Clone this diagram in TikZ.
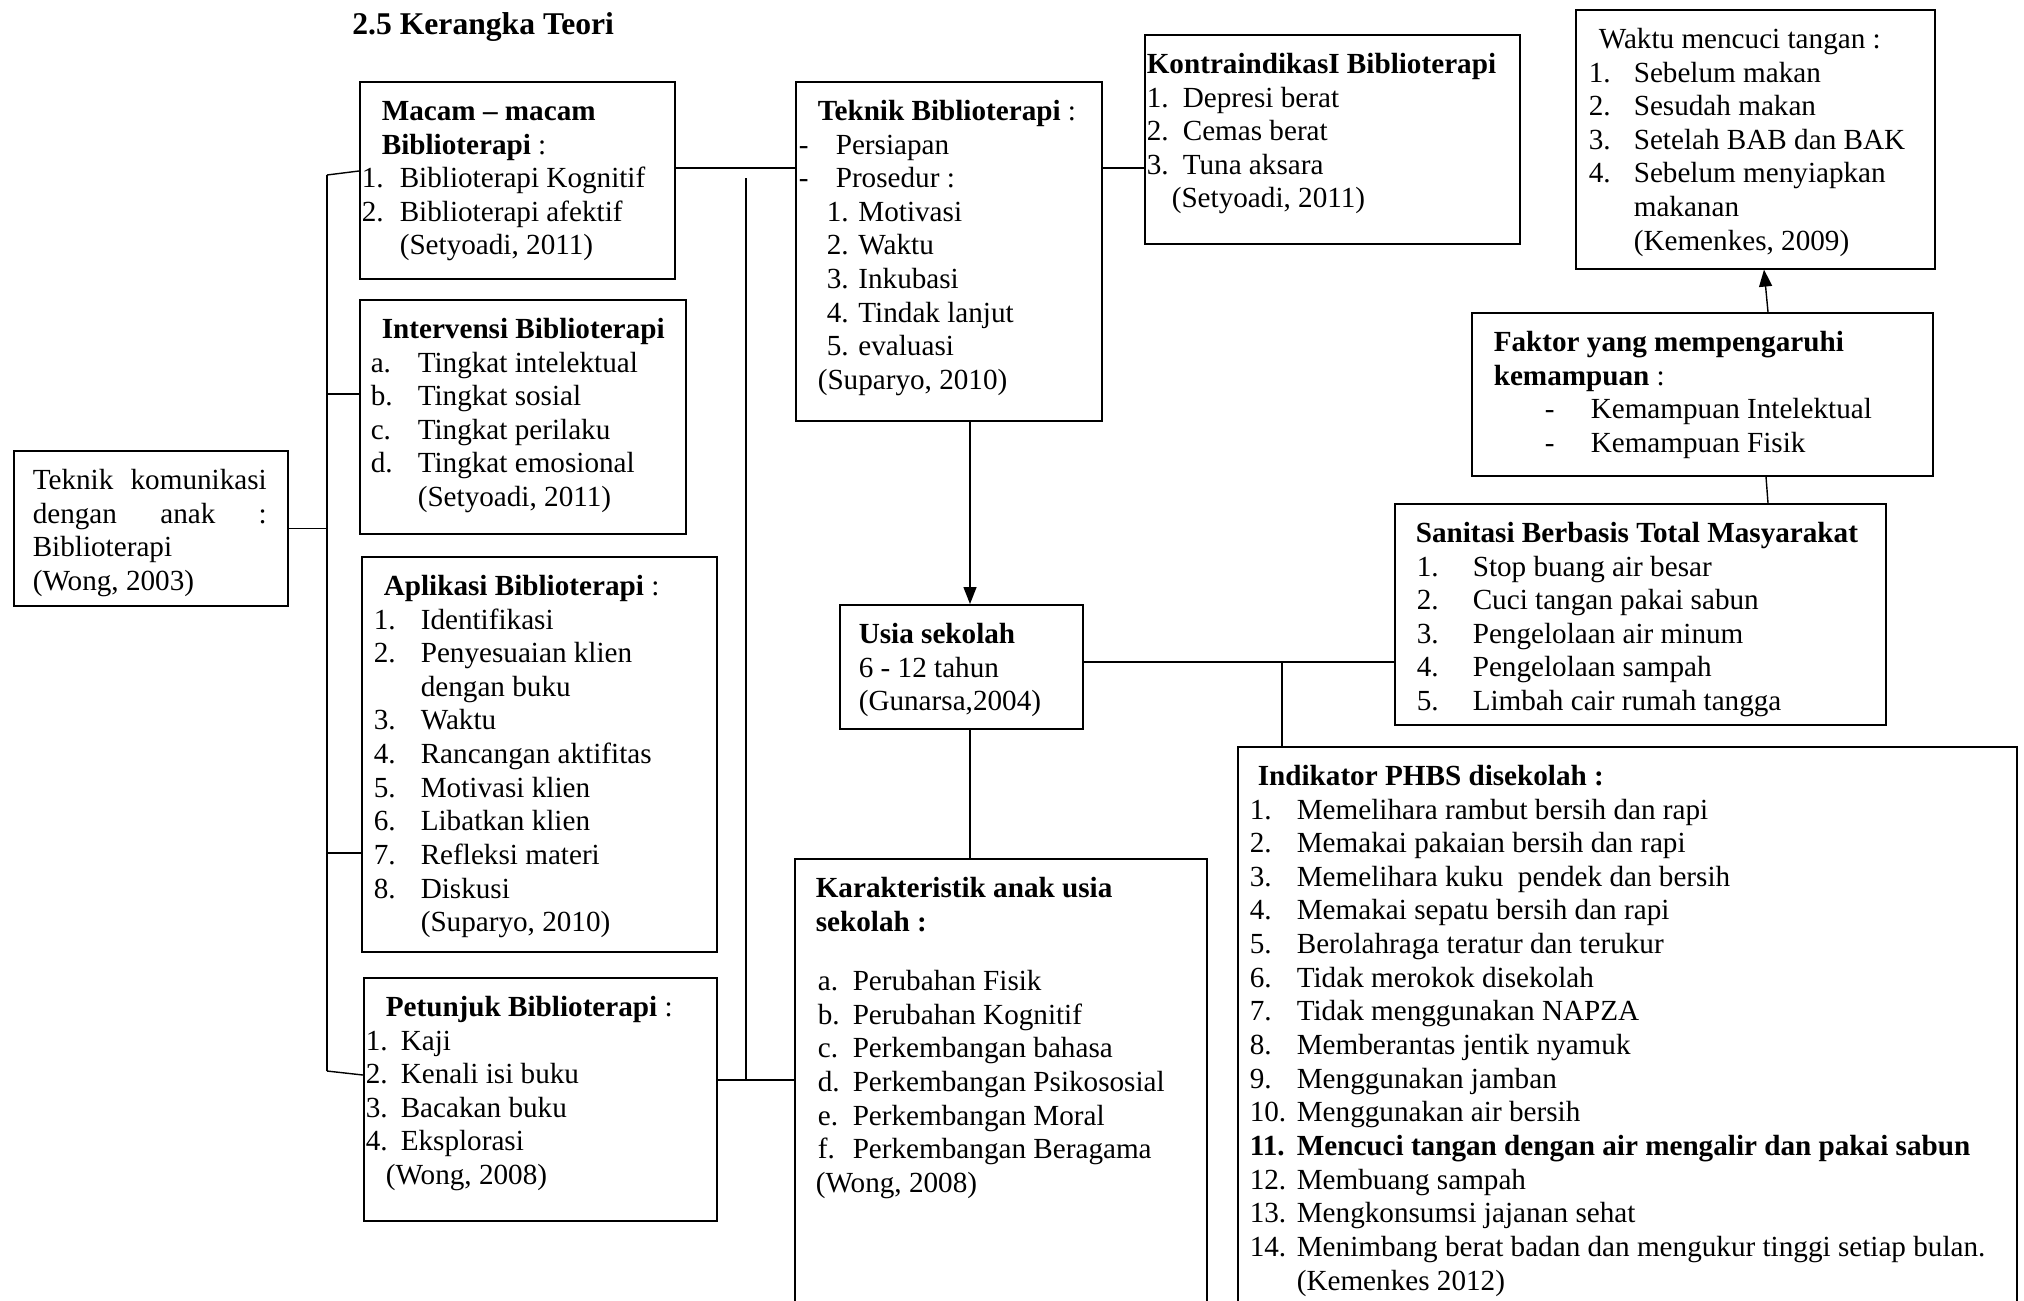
\documentclass[tikz,border=0pt]{standalone}
\usepackage{fontspec}
\setmainfont{Liberation Serif}
\usetikzlibrary{arrows.meta,calc}

\newlength\pxu \setlength\pxu{0.2mm}
\newcommand\ind[2]{\hspace*{#1\pxu}#2}
\newcommand\itm[4]{\hspace*{#1\pxu}\makebox[\dimexpr#2\pxu-#1\pxu\relax][l]{#3}#4}
\newcommand\panel[3]{\parbox[c][#2\pxu][t]{#1\pxu}{\vspace*{15\pxu}\strut#3}}

\begin{document}
\begin{tikzpicture}[x=0.2mm,y=-0.2mm,
panel/.style={draw=black,line width=0.9pt,inner sep=0pt,anchor=north west,
font=\fontsize{16.6pt}{19.15pt}\selectfont},
link/.style={draw=black,line width=0.8pt},
arrow/.style={link,-{Triangle[length=3.4mm,width=2.6mm]}}]
\path[fill=white,use as bounding box] (0,0) rectangle (2024,1300);
\node[anchor=west,inner sep=0pt,font=\bfseries\fontsize{18pt}{21pt}\selectfont] (title) at (352,27) {2.5 Kerangka Teori};

\node[panel] (komm) at (13,450) {\panel{274}{155}{%
\ind{19}{\makebox[234\pxu][s]{Teknik komunikasi}}\\
\ind{19}{\makebox[234\pxu][s]{dengan anak :}}\\
\ind{19}{Biblioterapi}\\
\ind{19}{(Wong, 2003)}}};

\node[panel] (macam) at (359,81) {\panel{315}{197}{%
\ind{22}{\textbf{Macam -- macam}}\\
\ind{22}{\textbf{Biblioterapi} :}\\
\itm{2}{40}{1.}{Biblioterapi Kognitif}\\
\itm{2}{40}{2.}{Biblioterapi afektif}\\
\ind{40}{(Setyoadi, 2011)}}};

\node[panel] (interv) at (359,299) {\panel{326}{234}{%
\ind{22}{\textbf{Intervensi Biblioterapi}}\\
\itm{11}{58}{a.}{Tingkat intelektual}\\
\itm{11}{58}{b.}{Tingkat sosial}\\
\itm{11}{58}{c.}{Tingkat perilaku}\\
\itm{11}{58}{d.}{Tingkat emosional}\\
\ind{58}{(Setyoadi, 2011)}}};

\node[panel] (aplik) at (361,556) {\panel{355}{395}{%
\ind{22}{\textbf{Aplikasi Biblioterapi} :}\\
\itm{12}{59}{1.}{Identifikasi}\\
\itm{12}{59}{2.}{Penyesuaian klien}\\
\ind{59}{dengan buku}\\
\itm{12}{59}{3.}{Waktu}\\
\itm{12}{59}{4.}{Rancangan aktifitas}\\
\itm{12}{59}{5.}{Motivasi klien}\\
\itm{12}{59}{6.}{Libatkan klien}\\
\itm{12}{59}{7.}{Refleksi materi}\\
\itm{12}{59}{8.}{Diskusi}\\
\ind{59}{(Suparyo, 2010)}}};

\node[panel] (petunjuk) at (363,977) {\panel{353}{243}{%
\ind{22}{\textbf{Petunjuk Biblioterapi} :}\\
\itm{2}{37}{1.}{Kaji}\\
\itm{2}{37}{2.}{Kenali isi buku}\\
\itm{2}{37}{3.}{Bacakan buku}\\
\itm{2}{37}{4.}{Eksplorasi}\\
\ind{22}{(Wong, 2008)}}};

\node[panel] (teknik) at (795,81) {\panel{306}{339}{%
\ind{22}{\textbf{Teknik Biblioterapi} :}\\
\itm{3}{40}{-}{Persiapan}\\
\itm{3}{40}{-}{Prosedur :}\\
\ind{31}{1. Motivasi}\\
\ind{31}{2. Waktu}\\
\ind{31}{3. Inkubasi}\\
\ind{31}{4. Tindak lanjut}\\
\ind{31}{5. evaluasi}\\
\ind{22}{(Suparyo, 2010)}}};

\node[panel] (kontra) at (1144,34) {\panel{375}{209}{%
\ind{2}{\textbf{KontraindikasI Biblioterapi}}\\
\itm{2}{38}{1.}{Depresi berat}\\
\itm{2}{38}{2.}{Cemas berat}\\
\itm{2}{38}{3.}{Tuna aksara}\\
\ind{27}{(Setyoadi, 2011)}}};

\node[panel] (waktu) at (1575,9) {\panel{359}{259}{%
\ind{23}{Waktu mencuci tangan :}\\
\itm{13}{58}{1.}{Sebelum makan}\\
\itm{13}{58}{2.}{Sesudah makan}\\
\itm{13}{58}{3.}{Setelah BAB dan BAK}\\
\itm{13}{58}{4.}{Sebelum menyiapkan}\\
\ind{58}{makanan}\\
\ind{58}{(Kemenkes, 2009)}}};

\node[panel] (faktor) at (1471,312) {\panel{461}{163}{%
\ind{22}{\textbf{Faktor yang mempengaruhi}}\\
\ind{22}{\textbf{kemampuan} :}\\
\itm{73}{119}{-}{Kemampuan Intelektual}\\
\itm{73}{119}{-}{Kemampuan Fisik}}};

\node[panel] (sanitasi) at (1394,503) {\panel{491}{221}{%
\ind{21}{\textbf{Sanitasi Berbasis Total Masyarakat}}\\
\itm{22}{78}{1.}{Stop buang air besar}\\
\itm{22}{78}{2.}{Cuci tangan pakai sabun}\\
\itm{22}{78}{3.}{Pengelolaan air minum}\\
\itm{22}{78}{4.}{Pengelolaan sampah}\\
\itm{22}{78}{5.}{Limbah cair rumah tangga}}};

\node[panel] (usia) at (839,604) {\panel{243}{124}{%
\ind{19}{\textbf{Usia sekolah}}\\
\ind{19}{6 - 12 tahun}\\
\ind{19}{(Gunarsa,2004)}}};

\node[panel] (karakter) at (794,858) {\panel{412}{460}{%
\ind{21}{\textbf{Karakteristik anak usia}}\\
\ind{21}{\textbf{sekolah :}}\\[26\pxu]
\itm{23}{58}{a.}{Perubahan Fisik}\\
\itm{23}{58}{b.}{Perubahan Kognitif}\\
\itm{23}{58}{c.}{Perkembangan bahasa}\\
\itm{23}{58}{d.}{Perkembangan Psikososial}\\
\itm{23}{58}{e.}{Perkembangan Moral}\\
\itm{23}{58}{f.}{Perkembangan Beragama}\\
\ind{21}{(Wong, 2008)}}};

\node[panel] (indikator) at (1237,746) {\panel{779}{570}{%
\ind{20}{\textbf{Indikator PHBS disekolah :}}\\
\itm{12}{59}{1.}{Memelihara rambut bersih dan rapi}\\
\itm{12}{59}{2.}{Memakai pakaian bersih dan rapi}\\
\itm{12}{59}{3.}{Memelihara kuku\ \ pendek dan bersih}\\
\itm{12}{59}{4.}{Memakai sepatu bersih dan rapi}\\
\itm{12}{59}{5.}{Berolahraga teratur dan terukur}\\
\itm{12}{59}{6.}{Tidak merokok disekolah}\\
\itm{12}{59}{7.}{Tidak menggunakan NAPZA}\\
\itm{12}{59}{8.}{Memberantas jentik nyamuk}\\
\itm{12}{59}{9.}{Menggunakan jamban}\\
\itm{12}{59}{10.}{Menggunakan air bersih}\\
\textbf{\itm{12}{59}{11.}{Mencuci tangan dengan air mengalir dan pakai sabun}}\\
\itm{12}{59}{12.}{Membuang sampah}\\
\itm{12}{59}{13.}{Mengkonsumsi jajanan sehat}\\
\itm{12}{59}{14.}{Menimbang berat badan dan mengukur tinggi setiap bulan.}\\
\ind{59}{(Kemenkes 2012)}}};

\coordinate (bustop) at (327,175);
\coordinate (busbot) at (327,1071);
\coordinate (spine) at (746,178);
\coordinate (ax) at (970,0);
\coordinate (jn) at (1282,0);
\draw[link] (komm.east) -- (komm.east -| bustop);
\draw[link] (bustop) -- (busbot);
\draw[link] (bustop) -- ($(macam.north west)+(0,90)$);
\draw[link] (busbot) -- ($(petunjuk.north west)+(0,98)$);
\foreach \n/\d in {interv/95,aplik/297}
\draw[link] ($(\n.north west)+(0,\d)$) coordinate (t) -- (t -| bustop);
\draw[link] ($(macam.north east)+(0,87)$) -- ($(teknik.north west)+(0,87)$);
\draw[link] ($(teknik.north east)+(0,87)$) coordinate (tk) -- (tk -| kontra.west);
\draw[link] ($(petunjuk.north east)+(0,103)$) coordinate (pk) -- (pk -| karakter.west);
\draw[link] (spine) -- (spine |- pk);
\draw[arrow] (teknik.south -| ax) -- (usia.north -| ax);
\draw[link] (usia.south -| ax) -- (karakter.north -| ax);
\draw[link] ($(usia.north east)+(0,58)$) coordinate (us) -- (us -| sanitasi.west);
\draw[link] (us -| jn) -- (indikator.north -| jn);
\draw[link] ($(faktor.south west)+(295,0)$) -- ($(sanitasi.north west)+(374,0)$);
\draw[arrow] ($(faktor.north west)+(297,0)$) -- ($(waktu.south west)+(189,0)$);
\end{tikzpicture}
\end{document}
